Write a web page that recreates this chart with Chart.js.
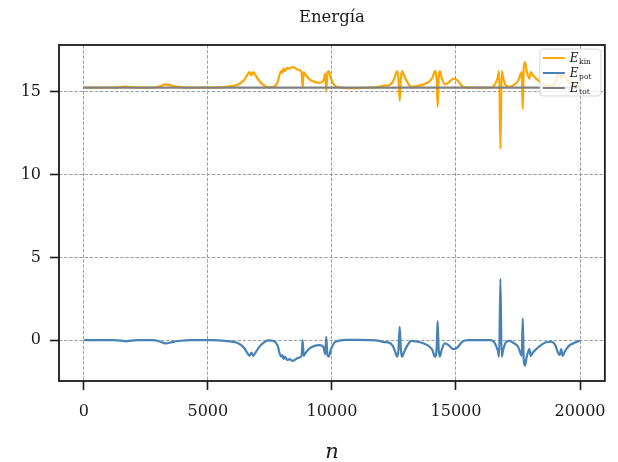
<!DOCTYPE html>
<html>
<head>
<meta charset="utf-8">
<script src="https://cdn.jsdelivr.net/npm/chart.js@4.4.0/dist/chart.umd.min.js"></script>
<style>
  html, body { margin:0; padding:0; background:#fff; }
</style>
</head>
<body>
<canvas id="myChart" width="618" height="462"></canvas>
<script>
// step index n
var nVals = [0,500,1200,1500,1700,1900,2200,2800,3050,3300,3550,3900,4300,4800,5200,5600,5900,6200,6450,6600,
  6680,6750,6830,6900,7050,7250,7450,7650,7800,7950,8000,8050,8100,8200,8300,8400,8500,8600,8700,8780,
  8820,8860,8950,9100,9300,9500,9650,9730,9770,9820,9880,9950,10100,10300,10600,11000,11500,11900,12100,12300,
  12450,12570,12620,12680,12730,12780,12830,12900,13050,13200,13450,13700,13900,14050,14150,14220,14260,14300,14350,14430,
  14550,14700,14900,15050,15250,15500,16000,16400,16550,16680,16740,16790,16840,16900,17000,17150,17350,17500,17600,17650,
  17690,17730,17780,17850,17920,17960,18010,18100,18300,18600,18850,19000,19120,19180,19240,19300,19380,19550,19800,20000];

// potential energy
var ePot = [0,0,0,-0.03,-0.07,-0.03,0,0,-0.08,-0.2,-0.12,-0.04,0,0,0,-0.03,-0.08,-0.18,-0.45,-0.8,
  -0.95,-0.75,-0.95,-0.8,-0.45,-0.15,-0.02,-0.05,-0.3,-1.0,-0.9,-1.15,-1.0,-1.2,-1.15,-1.25,-1.2,-1.1,-1.05,-0.9,
  0.0,-0.95,-0.75,-0.5,-0.35,-0.3,-0.4,-0.85,0.2,-0.9,-1.0,-0.6,-0.15,-0.03,0.02,0.02,0,-0.05,-0.12,-0.15,
  -0.35,-0.8,-1.0,-0.6,0.8,-0.6,-1.0,-0.75,-0.3,-0.05,-0.1,-0.2,-0.35,-0.6,-1.0,-0.5,1.15,-0.5,-1.0,-0.55,
  -0.2,-0.3,-0.55,-0.45,-0.1,0,0,0,-0.15,-0.6,-1.0,3.7,-1.0,-0.6,-0.15,-0.05,-0.2,-0.4,-0.8,-0.95,
  1.3,-1.2,-1.55,-1.0,-0.65,-0.55,-0.95,-0.75,-0.45,-0.15,-0.1,-0.3,-0.8,-0.9,-0.55,-0.95,-0.7,-0.35,-0.15,-0.02];

// kinetic energy
var eKin = [15.25,15.25,15.25,15.28,15.32,15.28,15.25,15.25,15.33,15.45,15.37,15.29,15.25,15.25,15.25,15.28,15.33,15.43,15.70,16.05,
  16.20,16.00,16.20,16.05,15.70,15.40,15.27,15.30,15.55,16.25,16.15,16.40,16.25,16.45,16.40,16.50,16.45,16.35,16.30,16.15,
  15.25,16.20,16.00,15.75,15.60,15.55,15.65,16.10,15.05,16.15,16.25,15.85,15.40,15.28,15.23,15.23,15.25,15.30,15.37,15.40,
  15.60,16.05,16.25,15.85,14.45,15.85,16.25,16.00,15.55,15.30,15.35,15.45,15.60,15.85,16.25,15.75,14.10,15.75,16.25,15.80,
  15.45,15.55,15.80,15.70,15.35,15.25,15.25,15.25,15.40,15.85,16.25,11.55,16.25,15.85,15.40,15.30,15.45,15.65,16.05,16.20,
  13.95,16.45,16.80,16.25,15.90,15.80,16.20,16.00,15.70,15.40,15.35,15.55,16.05,16.15,15.80,16.20,15.95,15.60,15.40,15.27];

// total energy
var nTot = [0, 20000];
var eTot = [15.25, 15.25];

var xTicks = [0, 5000, 10000, 15000, 20000];
var yTicks = [0, 5, 10, 15];
var names = [['E', 'kin'], ['E', 'pot'], ['E', 'tot']];
var colors = ['#ffa500', '#4682b4', '#808080'];

function pts(xs, ys) {
  return xs.map(function (x, i) { return { x: x, y: ys[i] }; });
}

var ink = '#1a1a1a';
var serif = 'DejaVu Serif';

var framePlugin = {
  id: 'frame',
  afterDatasetsDraw: function (chart) {
    var a = chart.chartArea, c = chart.ctx;
    c.save();
    c.strokeStyle = ink;
    c.lineWidth = 1.8;
    c.strokeRect(a.left, a.top, a.right - a.left, a.bottom - a.top);

    // title
    c.fillStyle = ink;
    c.font = '16.5px "' + serif + '"';
    c.textAlign = 'center';
    c.textBaseline = 'middle';
    c.fillText('Energía', (a.left + a.right) / 2, 18);

    // legend
    var bx = a.right - 65, by = a.top + 4, bw = 61, bh = 47;
    c.beginPath();
    c.roundRect(bx, by, bw, bh, 3);
    c.fillStyle = 'rgba(255,255,255,0.8)';
    c.fill();
    c.strokeStyle = 'rgba(204,204,204,0.8)';
    c.lineWidth = 1;
    c.stroke();
    for (var i = 0; i < names.length; i++) {
      var y = by + 9 + i * 15;
      c.strokeStyle = colors[i];
      c.lineWidth = 2;
      c.beginPath();
      c.moveTo(bx + 3, y);
      c.lineTo(bx + 25, y);
      c.stroke();
      c.fillStyle = ink;
      c.textAlign = 'left';
      c.textBaseline = 'alphabetic';
      c.font = 'italic 12px "' + serif + '"';
      c.fillText(names[i][0], bx + 30, y + 4);
      var w = c.measureText(names[i][0]).width;
      c.font = '7.5px "' + serif + '"';
      c.fillText(names[i][1], bx + 30 + w + 0.5, y + 6);
    }
    c.restore();
  }
};

var ctx = document.getElementById('myChart').getContext('2d');
var myChart = new Chart(ctx, {
  type: 'line',
  data: {
    datasets: [
      { label: 'Ekin', data: pts(nVals, eKin), borderColor: colors[0], borderWidth: 2.2, pointRadius: 0, order: 3, cubicInterpolationMode: 'monotone' },
      { label: 'Epot', data: pts(nVals, ePot), borderColor: colors[1], borderWidth: 2.2, pointRadius: 0, order: 2, cubicInterpolationMode: 'monotone' },
      { label: 'Etot', data: pts(nTot, eTot), borderColor: colors[2], borderWidth: 2.2, pointRadius: 0, order: 1 }
    ]
  },
  options: {
    responsive: false,
    animation: false,
    devicePixelRatio: 1,
    layout: { padding: { top: 45, right: 11, left: 0, bottom: 0 } },
    plugins: {
      legend: { display: false },
      tooltip: { enabled: false }
    },
    scales: {
      x: {
        type: 'linear',
        min: -1000,
        max: 21000,
        afterBuildTicks: function (s) { s.ticks = xTicks.map(function (v) { return { value: v }; }); },
        afterFit: function (s) { s.height = 81; },
        grid: { color: '#a0a0a0', lineWidth: 1, tickColor: ink, tickWidth: 1.6, tickLength: 9 },
        border: { display: false, dash: [3.5, 1.6] },
        ticks: {
          color: ink, padding: 12, maxRotation: 0, autoSkip: false,
          font: { family: serif, size: 16 },
          callback: function (v) { return String(v); }
        },
        title: { display: true, text: 'n', color: ink, padding: { top: 0, bottom: -3 }, font: { family: serif, style: 'italic', size: 21 } }
      },
      y: {
        min: -2.47,
        max: 17.83,
        afterBuildTicks: function (s) { s.ticks = yTicks.map(function (v) { return { value: v }; }); },
        afterFit: function (s) { s.width = 59; },
        grid: { color: '#a0a0a0', lineWidth: 1, tickColor: ink, tickWidth: 1.6, tickLength: 9 },
        border: { display: false, dash: [3.5, 1.6] },
        ticks: {
          color: ink, padding: 9,
          font: { family: serif, size: 16 },
          callback: function (v) { return String(v); }
        }
      }
    }
  },
  plugins: [framePlugin]
});
</script>
</body>
</html>
